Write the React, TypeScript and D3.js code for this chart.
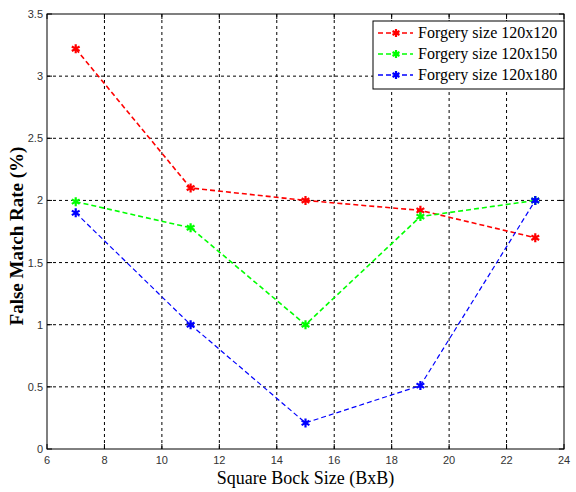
import React from "react";
import * as d3 from "d3";

const blockSizes = [7, 11, 15, 19, 23];
const red120x120 = [3.22, 2.1, 2.0, 1.92, 1.7];
const green120x150 = [1.99, 1.78, 1.0, 1.87, 2.0];
const blue120x180 = [1.9, 1.0, 0.21, 0.51, 2.0];
const seriesNames = ["Forgery size 120x120", "Forgery size 120x150", "Forgery size 120x180"];
const xTicks = [6, 8, 10, 12, 14, 16, 18, 20, 22, 24];
const yTicks = [0, 0.5, 1, 1.5, 2, 2.5, 3, 3.5];

const W = 576, H = 492;
const L = 47, R = 564, T = 14, B = 449;

function starPath(cx: number, cy: number, r: number) {
  const parts: string[] = [];
  for (let i = 0; i < 3; i++) {
    const a = (Math.PI / 3) * i + Math.PI / 2;
    const dx = Math.cos(a) * r, dy = Math.sin(a) * r;
    parts.push(`M${cx - dx},${cy - dy}L${cx + dx},${cy + dy}`);
  }
  return parts.join("");
}

export default function App() {
  const x = d3.scaleLinear().domain([6, 24]).range([L, R]);
  const y = d3.scaleLinear().domain([0, 3.5]).range([B, T]);
  const series = [
    { name: seriesNames[0], vals: red120x120, color: "#ff0000", width: 1.6 },
    { name: seriesNames[1], vals: green120x150, color: "#00ff00", width: 1.6 },
    { name: seriesNames[2], vals: blue120x180, color: "#0000ff", width: 1.2 },
  ];
  const line = d3.line<[number, number]>().x((d) => x(d[0])).y((d) => y(d[1]));
  return (
    <svg width={W} height={H} style={{ position: "absolute", left: 0, top: 0, background: "#fff" }}>
      <rect x={0} y={0} width={W} height={H} fill="#fff" />
      {xTicks.slice(1, -1).map((t) => (
        <line key={"gx" + t} x1={x(t)} x2={x(t)} y1={T} y2={B} stroke="#000" strokeWidth={1} strokeDasharray="3,3" />
      ))}
      {yTicks.slice(1, -1).map((t) => (
        <line key={"gy" + t} x1={L} x2={R} y1={y(t)} y2={y(t)} stroke="#000" strokeWidth={1} strokeDasharray="3,3" />
      ))}
      {xTicks.map((t) => (
        <g key={"tx" + t}>
          <line x1={x(t)} x2={x(t)} y1={B} y2={B - 5} stroke="#000" />
          <line x1={x(t)} x2={x(t)} y1={T} y2={T + 5} stroke="#000" />
          <text x={x(t)} y={B + 15} textAnchor="middle" fontFamily="Liberation Sans, Arial, sans-serif" fontSize={11} fill="#333">{t}</text>
        </g>
      ))}
      {yTicks.map((t) => (
        <g key={"ty" + t}>
          <line x1={L} x2={L + 5} y1={y(t)} y2={y(t)} stroke="#000" />
          <line x1={R} x2={R - 5} y1={y(t)} y2={y(t)} stroke="#000" />
          <text x={L - 4} y={y(t) + 4} textAnchor="end" fontFamily="Liberation Sans, Arial, sans-serif" fontSize={11} fill="#333">{t}</text>
        </g>
      ))}
      {series.map((s) => {
        const pts = blockSizes.map((b, i) => [b, s.vals[i]] as [number, number]);
        return (
          <g key={s.name}>
            <path d={line(pts) || ""} fill="none" stroke={s.color} strokeWidth={s.width} strokeDasharray="5,3" />
            {pts.map((p, i) => (
              <path key={i} d={starPath(x(p[0]), y(p[1]), 4.5)} stroke={s.color} strokeWidth={2.2} />
            ))}
          </g>
        );
      })}
      <rect x={L} y={T} width={R - L} height={B - T} fill="none" stroke="#000" strokeWidth={1} />
      <rect x={373} y={21} width={191} height={68} fill="#fff" stroke="#000" strokeWidth={1} />
      {series.map((s, i) => {
        const ly = 33 + i * 21;
        return (
          <g key={"lg" + i}>
            <line x1={378} x2={413} y1={ly} y2={ly} stroke={s.color} strokeWidth={1.6} strokeDasharray="5,3" />
            <path d={starPath(396, ly, 4)} stroke={s.color} strokeWidth={2.2} />
            <text x={418} y={ly + 5} fontFamily="Liberation Serif, Times New Roman, serif" fontSize={16} fill="#000">{s.name}</text>
          </g>
        );
      })}
      <text x={(L + R) / 2} y={484} textAnchor="middle" fontFamily="Liberation Serif, Times New Roman, serif" fontSize={18} fill="#000">Square Bock Size (BxB)</text>
      <text transform={`translate(23,236) rotate(-90)`} textAnchor="middle" fontFamily="Liberation Serif, Times New Roman, serif" fontSize={19} fontWeight="bold" fill="#000">False Match Rate (%)</text>
    </svg>
  );
}
